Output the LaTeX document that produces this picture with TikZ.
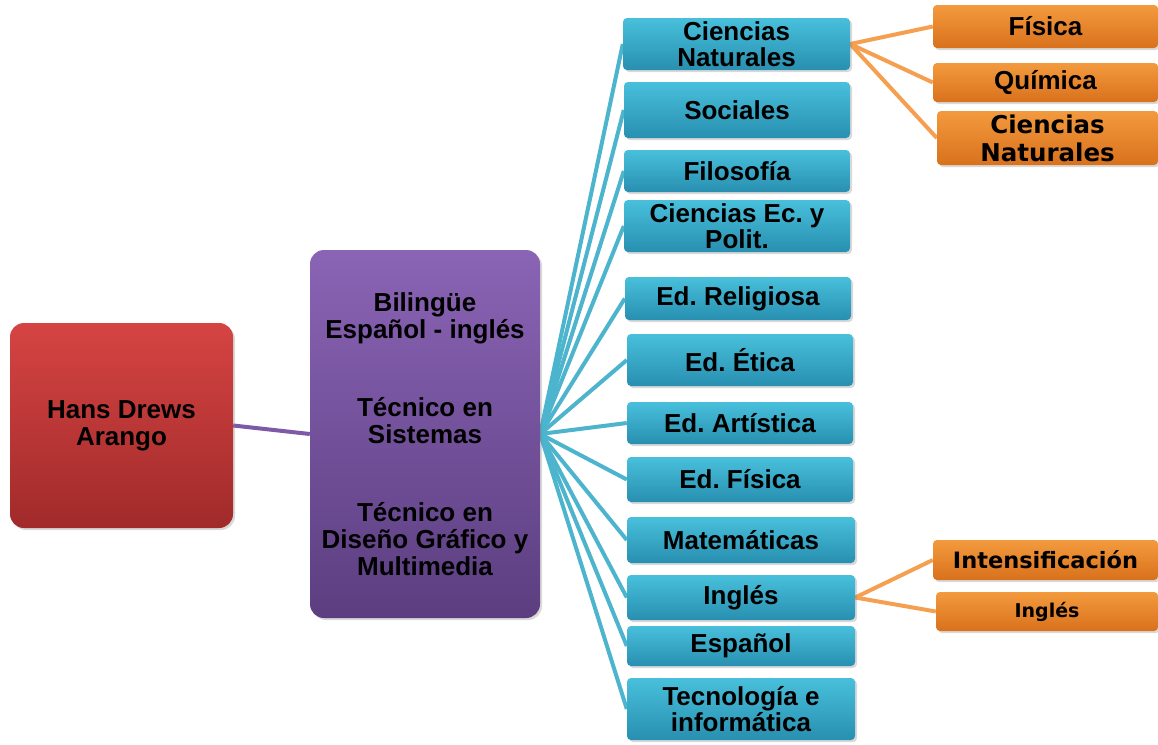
\documentclass[tikz,border=0pt]{standalone}
\usepackage{fontspec}
\setmainfont{Liberation Sans}
\newfontfamily\verd{DejaVu Sans}
\usetikzlibrary{shadows,backgrounds}
\frenchspacing
\definecolor{bluetop}{HTML}{48C0DC}
\definecolor{bluebot}{HTML}{288FB0}
\definecolor{orgtop}{HTML}{F39A3E}
\definecolor{orgbot}{HTML}{D9711C}
\definecolor{redtop}{HTML}{D54443}
\definecolor{redbot}{HTML}{A12A2A}
\definecolor{purtop}{HTML}{8A64B5}
\definecolor{purbot}{HTML}{5C3E80}
\definecolor{blueln}{HTML}{4DB4CD}
\definecolor{orgln}{HTML}{F5A050}
\definecolor{purln}{HTML}{7E5AA6}
\tikzset{
  sz/.style 2 args={minimum width=#1pt, minimum height=#2pt},
  box/.style={rounded corners=4pt, inner sep=0pt, align=center, text=black,
    drop shadow={opacity=0.3, shadow xshift=2pt, shadow yshift=-2pt}},
  bluebox/.style={box, top color=bluetop, bottom color=bluebot,
    font=\fontsize{26}{26}\selectfont\bfseries},
  orgbox/.style={box, top color=orgtop, bottom color=orgbot,
    font=\fontsize{26}{26}\selectfont\bfseries},
  orgverd/.style={box, top color=orgtop, bottom color=orgbot,
    font=\verd\fontsize{#1}{28}\selectfont\bfseries},
  bigbox/.style={box, rounded corners=14pt, font=\fontsize{26}{27}\selectfont\bfseries},
  blueline/.style={draw=blueln, line width=4pt},
  orgline/.style={draw=orgln, line width=4pt},
  purline/.style={draw=purln, line width=4pt}
}
\begin{document}
\begin{tikzpicture}[x=1pt,y=-1pt]
\useasboundingbox (0,0) rectangle (1158,744);
% main boxes
\node[bigbox, sz={223}{205}, top color=redtop, bottom color=redbot] (r) at (121.5,425.5) {Hans Drews\\Arango};
\node[bigbox, sz={230}{368}, top color=purtop, bottom color=purbot] (p) at (425,434)
  {Bilingüe\\Español - inglés\\[51pt]Técnico en\\Sistemas\\[51pt]Técnico en\\Diseño Gráfico y\\Multimedia};
% blue boxes
\node[bluebox, sz={227}{52}] (b1) at (736.5,44) {Ciencias\\Naturales};
\node[bluebox, sz={226}{56}] (b2) at (737,110) {Sociales};
\node[bluebox, sz={226}{42}] (b3) at (737,171) {Filosofía};
\node[bluebox, sz={226}{52}] (b4) at (737,226) {Ciencias Ec. y\\Polit.};
\node[bluebox, sz={226}{43}] (b5) at (738,298.5) {Ed. Religiosa};
\node[bluebox, sz={226}{52}] (b6) at (740,360) {Ed. Ética};
\node[bluebox, sz={226}{42}] (b7) at (740,423) {Ed. Artística};
\node[bluebox, sz={226}{45}] (b8) at (740,479.5) {Ed. Física};
\node[bluebox, sz={228}{46}] (b9) at (741,540) {Matemáticas};
\node[bluebox, sz={228}{45}] (b10) at (741,597.5) {Inglés};
\node[bluebox, sz={228}{40}] (b11) at (741,646) {Español};
\node[bluebox, sz={228}{62}] (b12) at (741,709) {Tecnología e\\informática};
% orange boxes
\node[orgbox, sz={225}{43}] (o1) at (1045.5,26.5) {Física};
\node[orgbox, sz={225}{39}] (o2) at (1045.5,82.5) {Química};
\node[orgverd=24.5, sz={221}{54}] (o3) at (1047.5,138) {Ciencias\\Naturales};
\node[orgverd=22.5, sz={225}{40}] (o4) at (1045.5,560) {Intensificación};
\node[orgverd=19, sz={222}{39}] (o5) at (1047,611.5) {Inglés};
% connectors
\begin{scope}[on background layer]
\draw[purline] (r.east) -- (p.east -| p.west);
\foreach \b in {b1,b2,b3,b4,b5,b6,b7,b8,b9,b10,b11,b12}
  \draw[blueline] (p.east) -- (\b.west);
\foreach \o in {o1,o2,o3}
  \draw[orgline] (b1.east) -- (\o.west);
\foreach \o in {o4,o5}
  \draw[orgline] (b10.east) -- (\o.west);
\end{scope}
\end{tikzpicture}
\end{document}
